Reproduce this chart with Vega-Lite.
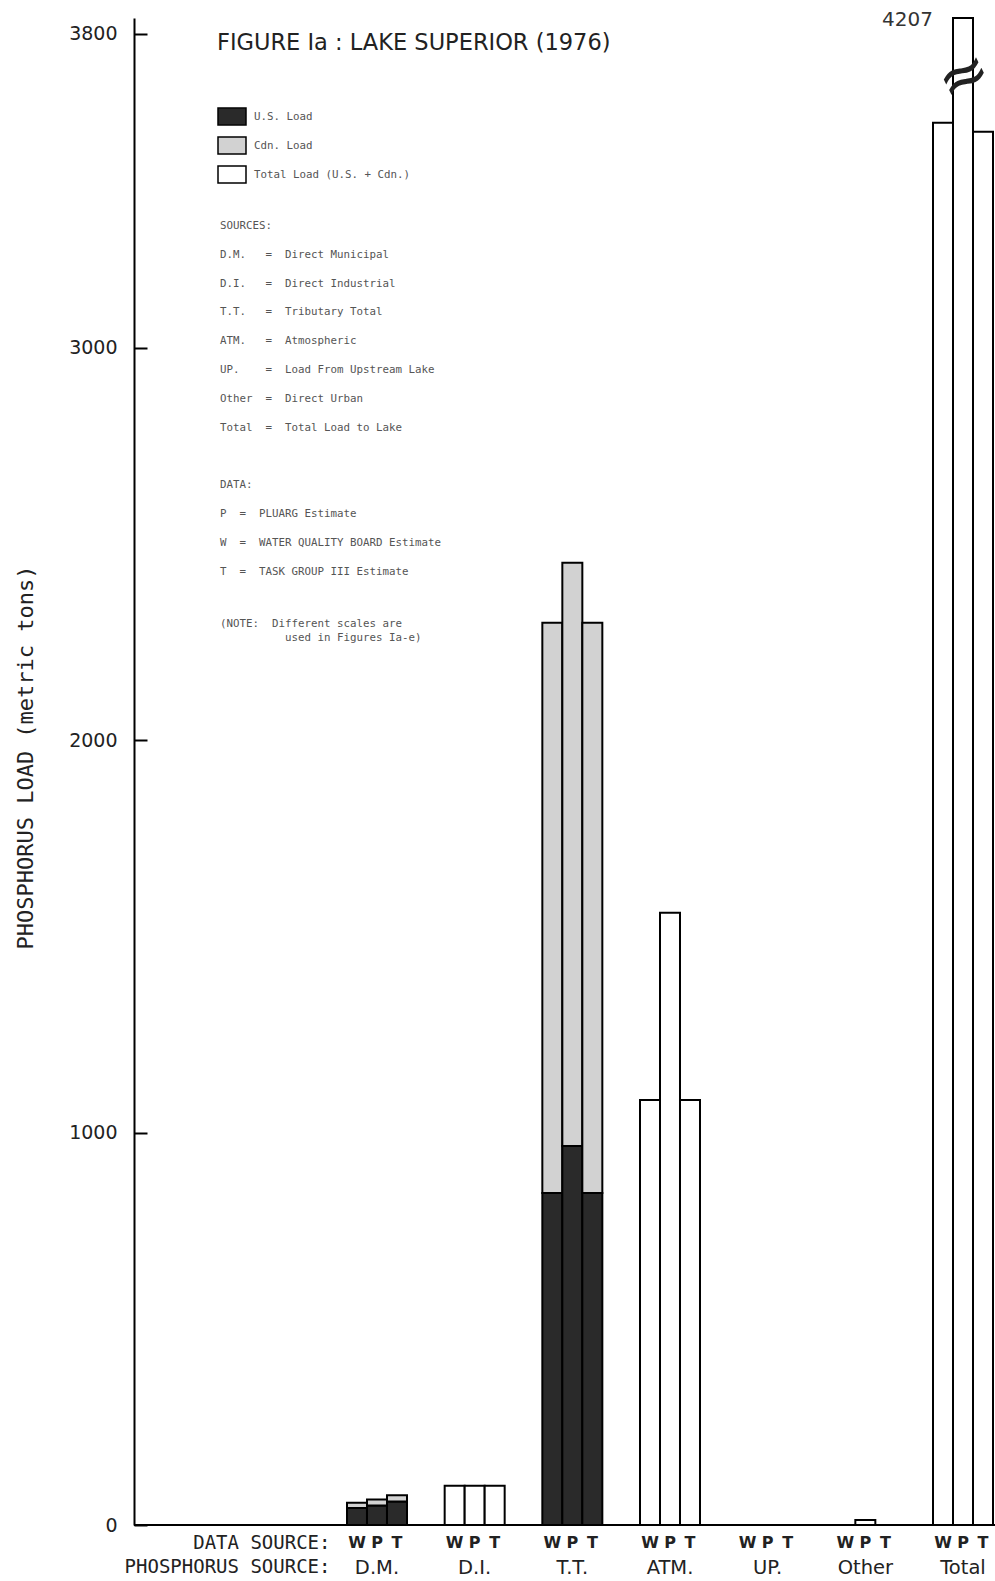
{
  "$schema": "https://vega.github.io/schema/vega-lite/v6.json",
  "width": 861,
  "height": 1507,
  "autosize": {"type": "none"},
  "padding": {"left": 134, "top": 18, "right": 0, "bottom": 56},
  "background": "white",
  "config": {
    "view": {"stroke": null},
    "axis": {"grid": false}
  },
  "data": {
    "values": [
      {"group": "D.M.", "source": "W", "type": "U.S. Load", "value": 43},
      {"group": "D.M.", "source": "W", "type": "Cdn. Load", "value": 14},
      {"group": "D.M.", "source": "P", "type": "U.S. Load", "value": 50},
      {"group": "D.M.", "source": "P", "type": "Cdn. Load", "value": 15},
      {"group": "D.M.", "source": "T", "type": "U.S. Load", "value": 60},
      {"group": "D.M.", "source": "T", "type": "Cdn. Load", "value": 16},
      {"group": "D.I.", "source": "W", "type": "Total Load (U.S. + Cdn.)", "value": 100},
      {"group": "D.I.", "source": "P", "type": "Total Load (U.S. + Cdn.)", "value": 100},
      {"group": "D.I.", "source": "T", "type": "Total Load (U.S. + Cdn.)", "value": 100},
      {"group": "T.T.", "source": "W", "type": "U.S. Load", "value": 846},
      {"group": "T.T.", "source": "W", "type": "Cdn. Load", "value": 1453},
      {"group": "T.T.", "source": "P", "type": "U.S. Load", "value": 966},
      {"group": "T.T.", "source": "P", "type": "Cdn. Load", "value": 1486},
      {"group": "T.T.", "source": "T", "type": "U.S. Load", "value": 846},
      {"group": "T.T.", "source": "T", "type": "Cdn. Load", "value": 1453},
      {"group": "ATM.", "source": "W", "type": "Total Load (U.S. + Cdn.)", "value": 1083},
      {"group": "ATM.", "source": "P", "type": "Total Load (U.S. + Cdn.)", "value": 1560},
      {"group": "ATM.", "source": "T", "type": "Total Load (U.S. + Cdn.)", "value": 1083},
      {"group": "UP.", "source": "W", "type": "Total Load (U.S. + Cdn.)", "value": 0},
      {"group": "UP.", "source": "P", "type": "Total Load (U.S. + Cdn.)", "value": 0},
      {"group": "UP.", "source": "T", "type": "Total Load (U.S. + Cdn.)", "value": 0},
      {"group": "Other", "source": "W", "type": "Total Load (U.S. + Cdn.)", "value": 0},
      {"group": "Other", "source": "P", "type": "Total Load (U.S. + Cdn.)", "value": 13},
      {"group": "Other", "source": "T", "type": "Total Load (U.S. + Cdn.)", "value": 0},
      {"group": "Total", "source": "W", "type": "Total Load (U.S. + Cdn.)", "value": 3573},
      {"group": "Total", "source": "P", "type": "Total Load (U.S. + Cdn.)", "value": 4207},
      {"group": "Total", "source": "T", "type": "Total Load (U.S. + Cdn.)", "value": 3550}
    ]
  },
  "encoding": {
    "x": {
      "field": "group",
      "type": "nominal",
      "sort": null,
      "scale": {
        "domain": ["D.M.", "D.I.", "T.T.", "ATM.", "UP.", "Other", "Total"],
        "range": [213, 859],
        "paddingInner": 0.3857,
        "paddingOuter": 0
      },
      "axis": {
        "domain": false,
        "ticks": false,
        "labelAngle": 0,
        "labelFont": "DejaVu Sans",
        "labelFontSize": 19.5,
        "labelColor": "#222",
        "labelBaseline": "middle",
        "labelPadding": 42,
        "title": ["DATA SOURCE:", "PHOSPHORUS SOURCE:"],
        "titleFont": "DejaVu Sans Mono",
        "titleFontSize": 19,
        "titleFontWeight": "normal",
        "titleColor": "#222",
        "titleLineHeight": 24,
        "titleAlign": "right",
        "titleBaseline": "middle",
        "titleAnchor": "start",
        "titleX": 196,
        "titleY": 17
      }
    },
    "xOffset": {
      "field": "source",
      "type": "nominal",
      "sort": null,
      "scale": {"domain": ["W", "P", "T"], "paddingInner": 0, "paddingOuter": 0}
    }
  },
  "layer": [
    {
      "mark": {"type": "bar", "strokeWidth": 2},
      "encoding": {
        "y": {
          "field": "value",
          "type": "quantitative",
          "stack": "zero",
          "scale": {"domain": [0, 3840], "nice": false, "clamp": true},
          "axis": {
            "values": [0, 1000, 2000, 3000, 3800],
            "format": "d",
            "tickSize": -13,
            "tickWidth": 2,
            "tickColor": "black",
            "domainColor": "black",
            "domainWidth": 2,
            "labelFont": "DejaVu Sans",
            "labelFontSize": 19,
            "labelColor": "#222",
            "labelPadding": 30,
            "title": "PHOSPHORUS LOAD (metric tons)",
            "titleFont": "DejaVu Sans Mono",
            "titleFontSize": 22,
            "titleFontWeight": "normal",
            "titleColor": "#222",
            "titleAngle": -90,
            "titleAlign": "center",
            "titleBaseline": "middle",
            "titleX": -109,
            "titleY": 739
          }
        },
        "order": {"field": "type", "sort": "descending"},
        "fill": {
          "field": "type",
          "type": "nominal",
          "scale": {
            "domain": ["U.S. Load", "Cdn. Load", "Total Load (U.S. + Cdn.)"],
            "range": ["#2a2a2a", "#d2d2d2", "#ffffff"]
          },
          "legend": {
            "orient": "none",
            "legendX": 83,
            "legendY": 14,
            "padding": 0,
            "title": "FIGURE Ia : LAKE SUPERIOR (1976)",
            "titleFont": "DejaVu Sans",
            "titleFontSize": 22.5,
            "titleFontWeight": "normal",
            "titleColor": "#222",
            "titleLimit": 700,
            "titlePadding": 47,
            "symbolType": "M-1,-0.6H1V0.6H-1Z",
            "symbolSize": 784,
            "symbolStrokeColor": "black",
            "symbolStrokeWidth": 1.5,
            "labelFont": "DejaVu Sans Mono",
            "labelFontSize": 10.8,
            "labelColor": "#555",
            "labelOffset": 7,
            "labelLimit": 400,
            "rowPadding": 2
          }
        },
        "stroke": {
          "datum": "sources",
          "scale": {"range": ["black"]},
          "legend": {
            "orient": "none",
            "legendX": 86,
            "legendY": 202,
            "padding": 0,
            "title": [
              "SOURCES:",
              "D.M.\u00a0\u00a0\u00a0=\u00a0\u00a0Direct Municipal",
              "D.I.\u00a0\u00a0\u00a0=\u00a0\u00a0Direct Industrial",
              "T.T.\u00a0\u00a0\u00a0=\u00a0\u00a0Tributary Total",
              "ATM.\u00a0\u00a0\u00a0=\u00a0\u00a0Atmospheric",
              "UP.\u00a0\u00a0\u00a0\u00a0=\u00a0\u00a0Load From Upstream Lake",
              "Other\u00a0\u00a0=\u00a0\u00a0Direct Urban",
              "Total\u00a0\u00a0=\u00a0\u00a0Total Load to Lake",
              "\u200b",
              "DATA:",
              "P\u00a0\u00a0=\u00a0\u00a0PLUARG Estimate",
              "W\u00a0\u00a0=\u00a0\u00a0WATER QUALITY BOARD Estimate",
              "T\u00a0\u00a0=\u00a0\u00a0TASK GROUP III Estimate"
            ],
            "titleFont": "DejaVu Sans Mono",
            "titleFontSize": 10.8,
            "titleFontWeight": "normal",
            "titleColor": "#555",
            "titleLineHeight": 28.8,
            "titleLimit": 600,
            "labelExpr": "''",
            "symbolOpacity": 0,
            "symbolStrokeWidth": 0
          }
        }
      }
    },
    {
      "transform": [{"filter": "datum.type !== 'Cdn. Load'"}],
      "mark": {
        "type": "text",
        "font": "DejaVu Sans",
        "fontSize": 16,
        "fontWeight": "bold",
        "color": "#222",
        "baseline": "middle",
        "align": "center",
        "dy": 18
      },
      "encoding": {
        "y": {"datum": 0},
        "text": {"field": "source"}
      }
    },
    {
      "data": {"values": [{"note": "note"}]},
      "mark": {"type": "rule", "strokeWidth": 2, "color": "black"},
      "encoding": {
        "x": null,
        "xOffset": null,
        "y": {"datum": 0},
        "strokeDash": {
          "datum": "note",
          "scale": {"range": [[1, 0]]},
          "legend": {
            "orient": "none",
            "legendX": 86,
            "legendY": 600,
            "padding": 0,
            "title": [
              "(NOTE:\u00a0\u00a0Different scales are",
              "\u200b\u00a0\u00a0\u00a0\u00a0\u00a0\u00a0\u00a0\u00a0\u00a0\u00a0used in Figures Ia-e)"
            ],
            "titleFont": "DejaVu Sans Mono",
            "titleFontSize": 10.8,
            "titleFontWeight": "normal",
            "titleColor": "#555",
            "titleLineHeight": 14,
            "titleLimit": 600,
            "labelExpr": "''",
            "symbolOpacity": 0,
            "symbolStrokeWidth": 0
          }
        }
      }
    },
    {
      "transform": [{"filter": "datum.group === 'Total' && datum.source === 'P'"}],
      "mark": {
        "type": "text",
        "font": "DejaVu Sans",
        "fontSize": 20,
        "color": "#333",
        "align": "right",
        "baseline": "middle",
        "dx": -30,
        "dy": 2
      },
      "encoding": {
        "y": {"field": "value", "type": "quantitative"},
        "text": {"field": "value", "type": "quantitative", "format": "d"}
      }
    },
    {
      "transform": [{"filter": "datum.group === 'Total' && datum.source === 'P'"}],
      "mark": {
        "type": "text",
        "text": "≈",
        "font": "DejaVu Sans",
        "fontSize": 62,
        "color": "#222",
        "align": "center",
        "baseline": "middle",
        "angle": -27,
        "dx": 1
      },
      "encoding": {
        "y": {"datum": 3690}
      }
    }
  ]
}
